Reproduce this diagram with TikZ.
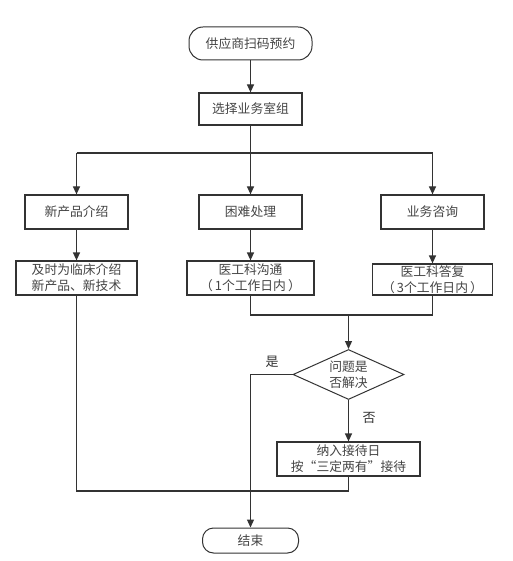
\documentclass[tikz,border=0pt]{standalone}
\usepackage{fontspec}
\setmainfont{Noto Sans CJK SC}
\usetikzlibrary{shapes.geometric,arrows.meta}
\definecolor{ln}{HTML}{333333}
\definecolor{tx}{HTML}{444444}
\begin{document}
\begin{tikzpicture}[x=1pt,y=-1pt,
  every node/.style={font=\fontsize{12.8}{16}\selectfont, text=tx, align=center},
  box/.style={draw=ln, line width=1.2pt, rectangle, inner sep=0pt},
  term/.style={draw=ln, line width=1pt, rectangle, rounded corners=14pt, inner sep=0pt},
  conn/.style={draw=ln, line width=1.2pt},
  arr/.style={conn, -{Triangle[length=8pt,width=7pt]}},
  lbl/.style={font=\fontsize{13}{16}\selectfont, text=ln}]
\useasboundingbox (0,0) rectangle (512,561);
\node[term, minimum width=123pt, minimum height=33pt] (start) at (250.5,43.5) {供应商扫码预约};
\node[box, minimum width=103pt, minimum height=32pt] (sel) at (250.5,109) {选择业务室组};
\node[box, minimum width=103pt, minimum height=34pt] (b1) at (76.5,212) {新产品介绍};
\node[box, minimum width=103pt, minimum height=34pt] (b2) at (250.5,212) {困难处理};
\node[box, minimum width=103pt, minimum height=34pt] (b3) at (432.5,212) {业务咨询};
\node[box, minimum width=121pt, minimum height=34pt] (c1) at (76.5,278) {及时为临床介绍\\新产品、新技术};
\node[box, minimum width=127pt, minimum height=34pt] (c2) at (250.5,278) {医工科沟通\\（\,1个工作日内\,）};
\node[box, minimum width=120pt, minimum height=31pt] (c3) at (432.5,279.5) {医工科答复\\（\,3个工作日内\,）};
\node[diamond, draw=ln, line width=1pt, minimum width=111pt, minimum height=50pt, inner sep=0pt, aspect=2.2] (dec) at (348.5,374.5) {};
\node at (dec) {问题是\\否解决};
\node[box, minimum width=143pt, minimum height=34pt] (d) at (348.5,459) {纳入接待日\\按“三定两有”接待};
\node[term, minimum width=96pt, minimum height=25pt, rounded corners=11pt] (end) at (250.5,540.5) {结束};
\coordinate (bus) at (250.5,153);
\coordinate (m) at (348.5,315);
\coordinate (j) at (348.5,491);
\draw[arr] (start) -- (sel);
\draw[conn] (sel) -- (bus);
\draw[conn] (b1.north |- bus) -- (b3.north |- bus);
\draw[arr] (b1.north |- bus) -- (b1.north);
\draw[arr] (bus) -- (b2.north);
\draw[arr] (b3.north |- bus) -- (b3.north);
\draw[arr] (b1) -- (c1);
\draw[arr] (b2) -- (c2);
\draw[arr] (b3) -- (c3);
\draw[conn] (c2.south) |- (c3.south |- m) -- (c3.south);
\draw[arr] (m) -- (dec.north);
\draw[arr] (dec.west) -| (end.north);
\draw[arr] (dec.south) -- (d.north);
\draw[conn] (c1.south) |- (j) -- (d.south);
\node[lbl] (yes) at (272,362) {是};
\node[lbl] (no) at (369,418) {否};
\end{tikzpicture}
\end{document}
